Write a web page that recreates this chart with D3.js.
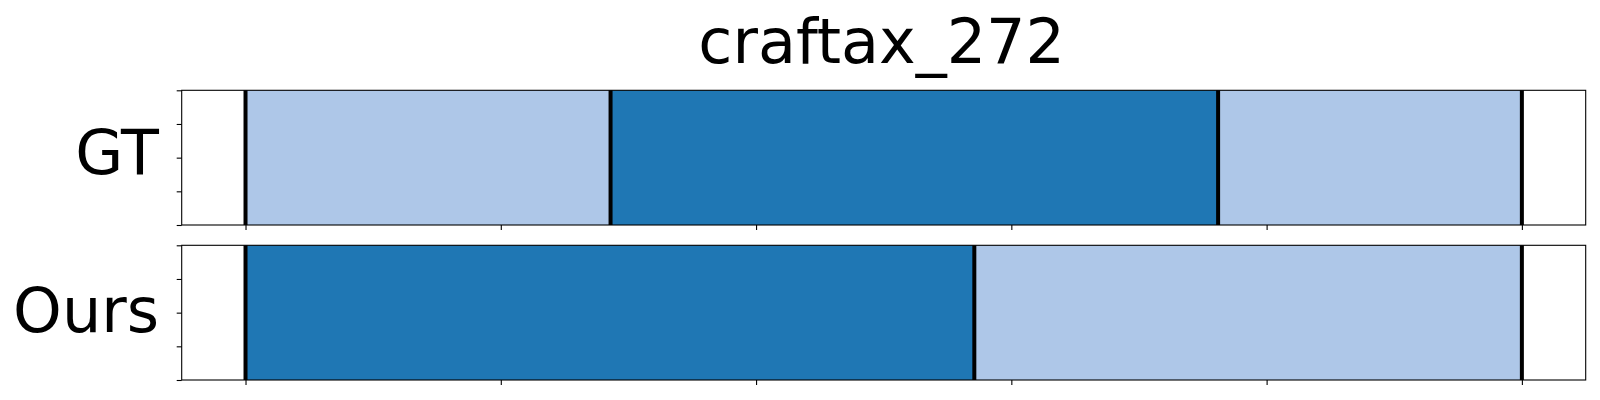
<!DOCTYPE html>
<html>
<head>
<meta charset="utf-8">
<script src="https://cdn.jsdelivr.net/npm/d3@7"></script>
<style>
  html, body { margin: 0; padding: 0; background: #fff; }
  svg { display: block; }
  text { font-family: "DejaVu Sans", sans-serif; fill: #000; }
</style>
</head>
<body>
<svg id="chart" width="1600" height="400"></svg>
<script>
// ---- data ----
const title = "craftax_272";
const rows = ["GT", "Ours"];
// segment boundaries (normalised position 0..1) and class per segment
const gtStarts = [0, 0.286, 0.762];
const gtEnds   = [0.286, 0.762, 1];
const gtClass  = ["light", "dark", "light"];
const oursStarts = [0, 0.571];
const oursEnds   = [0.571, 1];
const oursClass  = ["dark", "light"];
const xTicks = [0, 0.2, 0.4, 0.6, 0.8, 1];
const yTicks = [0, 0.25, 0.5, 0.75, 1];

// ---- styles ----
const colors = { light: "#aec7e8", dark: "#1f77b4" };

const svg = d3.select("#chart");
const left = 181.7, right = 1585.7;
const panels = [
  { label: rows[0], top: 90.3, bottom: 225, starts: gtStarts, ends: gtEnds, cls: gtClass, baseline: 173.5 },
  { label: rows[1], top: 245.3, bottom: 380, starts: oursStarts, ends: oursEnds, cls: oursClass, baseline: 331.5 }
];

const x = d3.scaleLinear().domain([-0.05, 1.05]).range([left, right]);

svg.append("text")
  .attr("x", (left + right) / 2 - 2)
  .attr("y", 63)
  .attr("text-anchor", "middle")
  .style("font-size", "62px")
  .text(title);

panels.forEach(p => {
  const y = d3.scaleLinear().domain([0, 1]).range([p.bottom, p.top]);
  const g = svg.append("g");
  const segs = p.starts.map((s, i) => ({ s, e: p.ends[i], c: p.cls[i] }));

  g.selectAll("rect.seg").data(segs).enter().append("rect")
    .attr("class", "seg")
    .attr("x", d => x(d.s))
    .attr("width", d => x(d.e) - x(d.s))
    .attr("y", y(1))
    .attr("height", y(0) - y(1))
    .attr("fill", d => colors[d.c]);

  const bounds = Array.from(new Set(p.starts.concat(p.ends)));
  g.selectAll("line.bnd").data(bounds).enter().append("line")
    .attr("class", "bnd")
    .attr("x1", d => x(d)).attr("x2", d => x(d))
    .attr("y1", y(1)).attr("y2", y(0))
    .attr("stroke", "#000")
    .attr("stroke-width", 4);

  // frame
  g.append("rect")
    .attr("x", left).attr("y", p.top)
    .attr("width", right - left).attr("height", p.bottom - p.top)
    .attr("fill", "none").attr("stroke", "#000").attr("stroke-width", 1.1);

  const xa = g.append("g").attr("transform", `translate(0,${p.bottom})`)
    .call(d3.axisBottom(x).tickValues(xTicks).tickFormat("").tickSize(5).tickSizeOuter(0));
  const ya = g.append("g").attr("transform", `translate(${left},0)`)
    .call(d3.axisLeft(y).tickValues(yTicks).tickFormat("").tickSize(5).tickSizeOuter(0));
  [xa, ya].forEach(a => {
    a.select(".domain").remove();
    a.selectAll(".tick line").attr("stroke", "#000").attr("stroke-width", 1.1);
  });

  svg.append("text")
    .attr("x", 159)
    .attr("y", p.baseline)
    .attr("text-anchor", "end")
    .style("font-size", "62px")
    .text(p.label);
});
</script>
</body>
</html>
